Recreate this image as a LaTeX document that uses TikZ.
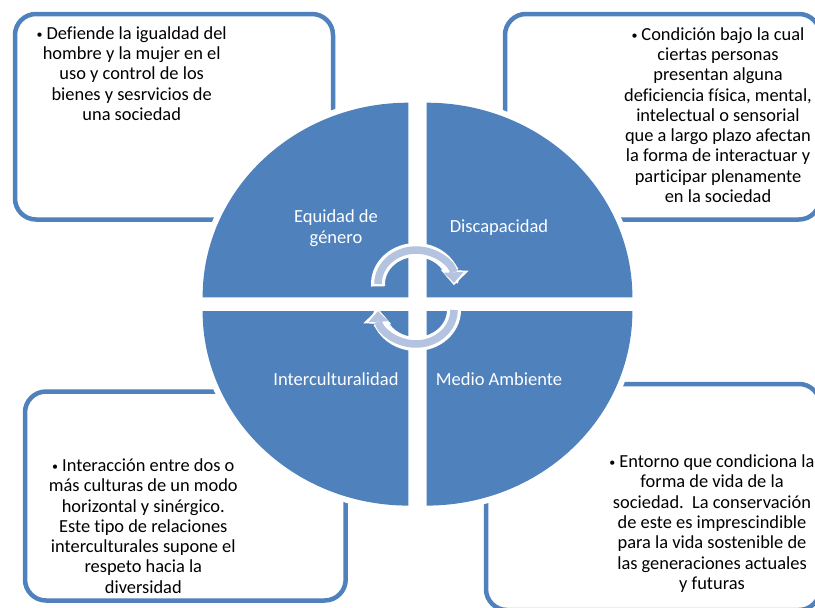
\documentclass[tikz,border=0pt]{standalone}
\usepackage{fontspec}
\setmainfont{Carlito}[Ligatures=NoCommon]
\usetikzlibrary{arrows.meta}
\definecolor{qblue}{HTML}{4F81BD}
\definecolor{arrowblue}{HTML}{B4C4E0}
\newcommand{\smbul}{{\fontsize{12}{12}\selectfont\raisebox{0.6pt}{•}}\hspace{4pt}}
\begin{document}
\begin{tikzpicture}[x=1pt,y=-1pt,
  box/.style={draw=qblue, line width=4.5pt, rounded corners=21pt, inner sep=0pt},
  boxtext/.style={font=\fontsize{18.4}{20.3}\selectfont, align=center, inner sep=0pt, text=black},
  qlabel/.style={font=\fontsize{18.5}{20.8}\selectfont, align=center, text=white, inner sep=0pt},
  halo/.style={draw=white, line width=12pt, fill=white, line join=round},
  quad/.style={fill=qblue},
  arcunder/.style={draw=white, line width=14pt, -{Triangle[width=28pt,length=15pt,line width=0pt]}},
  arcover/.style={draw=arrowblue, line width=7.5pt, -{Triangle[width=20pt,length=10.5pt,line width=0pt]}}
]
\path[use as bounding box] (0,0) rectangle (815,608);
\clip (0,0) rectangle (815,608);
\fill[white] (0,0) rectangle (815,608);

% boxes
\node[box, minimum width=318pt, minimum height=205.5pt] (boxTL) at (174,116.75) {};
\node[box, minimum width=315pt, minimum height=205.5pt] (boxTR) at (662.5,116.75) {};
\node[box, minimum width=320.7pt, minimum height=209pt] (boxBL) at (185.35,496) {};
\node[box, minimum width=334pt, minimum height=226pt] (boxBR) at (653,497) {};

% box texts
\node[boxtext] (tTL) at (131.7,73.5) {\smbul Defiende la igualdad del\\hombre y la mujer en el\\uso y control de los\\bienes y sesrvicios de\\una sociedad};
\node[boxtext] (tTR) at (718,115) {\smbul Condición bajo la cual\\ciertas personas\\presentan alguna\\deficiencia física, mental,\\intelectual o sensorial\\que a largo plazo afectan\\la forma de interactuar y\\participar plenamente\\en la sociedad};
\node[boxtext] (tBL) at (143.3,526) {\smbul Interacción entre dos o\\más culturas de un modo\\horizontal y sinérgico.\\Este tipo de relaciones\\interculturales supone el\\respeto hacia la\\diversidad};
\node[boxtext] (tBR) at (712,523.5) {\smbul Entorno que condiciona la\\forma de vida de la\\sociedad.\ \ La conservación\\de este es imprescindible\\para la vida sostenible de\\las generaciones actuales\\y futuras};

% quadrants
\def\qrx{205.7}
\def\qry{194.6}
\foreach \st in {halo,quad}{
  \path[\st] (408.3,297.3) -- ++(-\qrx,0) arc[start angle=180,end angle=270,x radius=\qrx,y radius=\qry] -- cycle;
  \path[\st] (426.7,297.3) -- ++(0,-\qry) arc[start angle=270,end angle=360,x radius=\qrx,y radius=\qry] -- cycle;
  \path[\st] (426.7,311) -- ++(\qrx,0) arc[start angle=0,end angle=90,x radius=\qrx,y radius=\qry] -- cycle;
  \path[\st] (408.3,311) -- ++(0,\qry) arc[start angle=90,end angle=180,x radius=\qrx,y radius=\qry] -- cycle;
}

% quadrant labels
\node[qlabel] (lEq) at (336,228.5) {Equidad de\\género};
\node[qlabel] (lDis) at (499,228) {Discapacidad};
\node[qlabel] (lInt) at (336,379) {Interculturalidad};
\node[qlabel] (lMed) at (499,379) {Medio Ambiente};

% circular arrows
\coordinate (ctop) at (416,284);
\coordinate (cbot) at (416,310);
\draw[arcunder] ([shift={(176:38 and 34)}]ctop) arc[start angle=176,end angle=362,x radius=38,y radius=34];
\draw[arcover] ([shift={(180:38 and 34)}]ctop) arc[start angle=180,end angle=358,x radius=38,y radius=34];
\draw[arcunder] ([shift={(-4:38 and 34)}]cbot) arc[start angle=-4,end angle=182,x radius=38,y radius=34];
\draw[arcover] ([shift={(0:38 and 34)}]cbot) arc[start angle=0,end angle=178,x radius=38,y radius=34];
\end{tikzpicture}
\end{document}
